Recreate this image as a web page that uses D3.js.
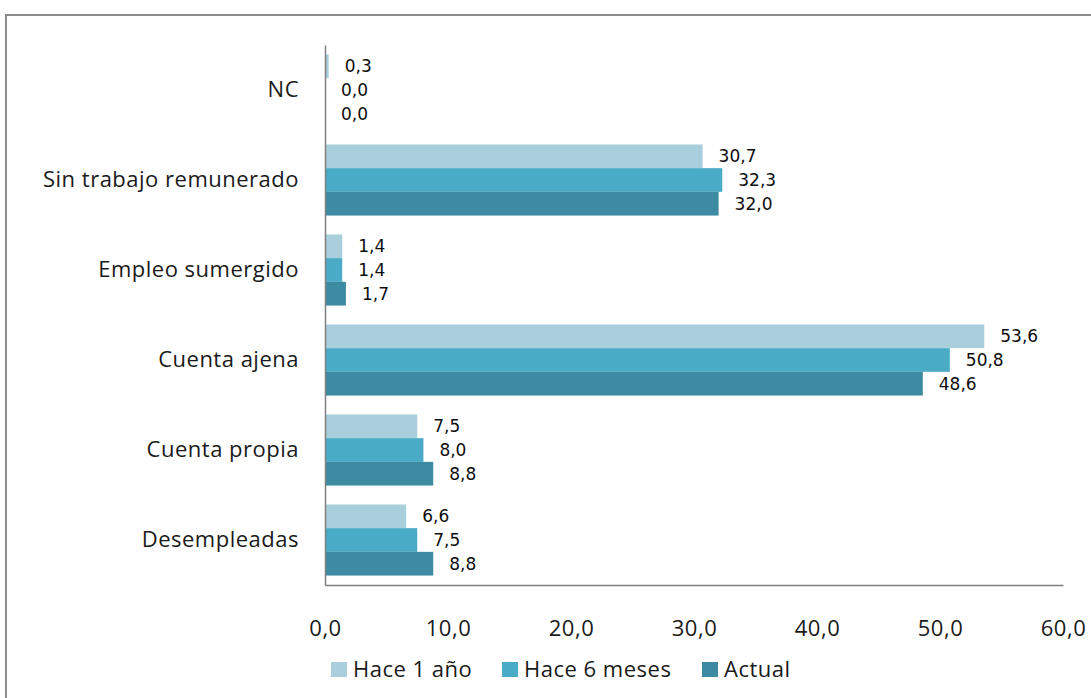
<!DOCTYPE html>
<html>
<head>
<meta charset="utf-8">
<script src="https://cdn.jsdelivr.net/npm/d3@7"></script>
<style>
  html, body { margin: 0; padding: 0; background: #fff; }
  svg { display: block; }
</style>
</head>
<body>
<svg id="chart" width="1091" height="698"></svg>
<script>
// Categories, top to bottom
const categories = ["NC", "Sin trabajo remunerado", "Empleo sumergido", "Cuenta ajena", "Cuenta propia", "Desempleadas"];
// Series (percentages)
const seriesNames = ["Hace 1 año", "Hace 6 meses", "Actual"];
const hace1Anio  = [0.3, 30.7, 1.4, 53.6, 7.5, 6.6];
const hace6Meses = [0.0, 32.3, 1.4, 50.8, 8.0, 7.5];
const actual     = [0.0, 32.0, 1.7, 48.6, 8.8, 8.8];
const xTicks = [0, 10, 20, 30, 40, 50, 60];
const colors = ["#a9cfdc", "#4aabc6", "#3c8ba3"];

const seriesValues = [hace1Anio, hace6Meses, actual];
const fmt = v => v.toFixed(1).replace(".", ",");
const mainFont = "'Open Sans', sans-serif";
const mainSize = 22;
const mainSpacing = 0.5;

const svg = d3.select("#chart");
const plot = { left: 325, right: 1063, top: 45, bottom: 585 };

// Outer frame
svg.append("rect")
  .attr("x", 6).attr("y", 15)
  .attr("width", 1200).attr("height", 800)
  .attr("fill", "none").attr("stroke", "#8c8c8c").attr("stroke-width", 2);

const x = d3.scaleLinear().domain([0, 60]).range([plot.left, plot.right]);
const y = d3.scaleBand().domain(categories).range([plot.top, plot.bottom])
  .paddingInner(0.21).paddingOuter(0.105);
const ySub = d3.scaleBand().domain(d3.range(seriesNames.length)).range([0, y.bandwidth()]);

// Bars
const groups = svg.append("g").selectAll("g")
  .data(categories)
  .join("g")
  .attr("transform", c => `translate(0,${y(c)})`);

groups.selectAll("rect")
  .data((c, i) => seriesValues.map((s, k) => ({ k, v: s[i] })))
  .join("rect")
  .attr("x", x(0))
  .attr("y", d => ySub(d.k))
  .attr("width", d => x(d.v) - x(0))
  .attr("height", ySub.bandwidth())
  .attr("fill", d => colors[d.k]);

// Value labels
groups.selectAll("text")
  .data((c, i) => seriesValues.map((s, k) => ({ k, v: s[i] })))
  .join("text")
  .attr("x", d => x(d.v) + 16)
  .attr("y", d => ySub(d.k) + ySub.bandwidth() / 2)
  .attr("dy", "0.36em")
  .attr("font-family", "'DejaVu Sans', sans-serif")
  .attr("font-size", 17)
  .attr("fill", "#0d0d0d")
  .text(d => fmt(d.v));

// Y axis (category labels)
const yAxis = d3.axisLeft(y).tickSize(0).tickPadding(26);
const gy = svg.append("g").attr("transform", `translate(${plot.left},0)`).call(yAxis);
gy.select(".domain").attr("stroke", "#7f7f7f").attr("stroke-width", 1.5);
gy.selectAll("text")
  .attr("font-family", mainFont)
  .attr("font-size", mainSize)
  .attr("letter-spacing", mainSpacing)
  .attr("fill", "#1a1a1a");

// X axis (bottom line + tick labels)
const xAxis = d3.axisBottom(x).tickValues(xTicks).tickSize(0).tickPadding(35).tickFormat(fmt);
const gx = svg.append("g").attr("transform", `translate(0,${plot.bottom})`).call(xAxis);
gx.select(".domain").attr("stroke", "#7f7f7f").attr("stroke-width", 1.5);
gx.selectAll("text")
  .attr("font-family", mainFont)
  .attr("font-size", mainSize)
  .attr("letter-spacing", mainSpacing)
  .attr("fill", "#1a1a1a");

// Legend
const legendItems = [
  { name: seriesNames[0], color: colors[0], x: 331 },
  { name: seriesNames[1], color: colors[1], x: 502 },
  { name: seriesNames[2], color: colors[2], x: 702 }
];
const legend = svg.append("g");
const li = legend.selectAll("g").data(legendItems).join("g")
  .attr("transform", d => `translate(${d.x},662)`);
li.append("rect").attr("width", 16).attr("height", 15).attr("fill", d => d.color);
li.append("text")
  .attr("x", 22).attr("y", 15)
  .attr("font-family", mainFont)
  .attr("font-size", mainSize)
  .attr("letter-spacing", mainSpacing)
  .attr("fill", "#1a1a1a")
  .text(d => d.name);
</script>
</body>
</html>
